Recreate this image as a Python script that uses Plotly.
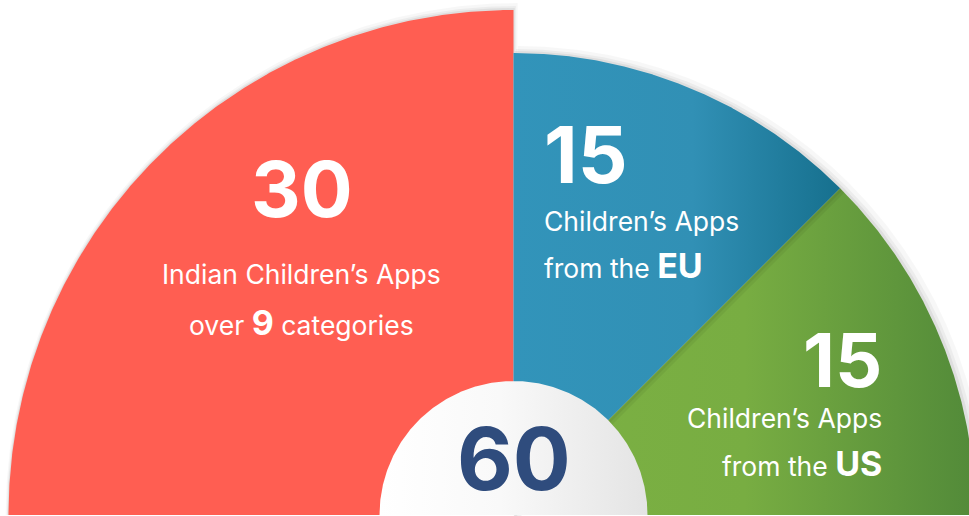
import numpy as np
import plotly.graph_objects as go

# ---- data ----
categories = ["India", "EU", "US"]
values = [30, 15, 15]
total_label = "60"
value_labels = ["30", "15", "15"]
line1 = ["Indian Children’s Apps", "Children’s Apps", "Children’s Apps"]
line2_pre = ["over ", "from the ", "from the "]
line2_bold = ["9", "EU", "US"]
line2_post = [" categories", "", ""]

# ---- style ----
radii = [505, 462, 462]
fills = [
    [[0, "#ff5e52"], [1, "#ff5e52"]],
    [[0, "#3294ba"], [0.55, "#3190b5"], [1, "#16708e"]],
    [[0, "#7cb143"], [0.5, "#78ad42"], [1, "#528a39"]],
]
hub_radius = 134
FONT = "Inter, Liberation Sans, Arial, sans-serif"
BODY = 26.5
BIG = 34

total = sum(values)
fig = go.Figure()

# soft outer shadow
cum = 0
for v, r in zip(values, radii):
    a0 = 180 - cum / total * 180
    a1 = 180 - (cum + v) / total * 180
    cum += v
    t = np.radians(np.linspace(a0, a1, 200))
    for k, op in [(7, 0.03), (4, 0.045), (2, 0.06)]:
        xs = np.concatenate([[0], (r + k) * np.cos(t) + k * 0.6, [0]])
        ys = np.concatenate([[0], (r + k) * np.sin(t), [0]])
        fig.add_trace(go.Scatter(x=xs, y=ys, fill="toself", mode="lines",
                                 line=dict(width=0), fillcolor=f"rgba(0,0,0,{op})",
                                 hoverinfo="skip", showlegend=False))

cum = 0
for i, (v, r) in enumerate(zip(values, radii)):
    a0 = 180 - cum / total * 180
    a1 = 180 - (cum + v) / total * 180
    cum += v
    t = np.radians(np.linspace(a0, a1, 300))
    xs = np.concatenate([[0], r * np.cos(t), [0]])
    ys = np.concatenate([[0], r * np.sin(t), [0]])
    fig.add_trace(go.Scatter(
        x=xs, y=ys, fill="toself", mode="lines", line=dict(width=0),
        fillgradient=dict(type="horizontal", colorscale=fills[i]),
        name=categories[i], hoverinfo="name", showlegend=False))
    if i == 2:
        # shadow cast by the EU wedge onto the US wedge
        for w, op in [(6, 0.05), (3, 0.06)]:
            tt = np.radians(a0)
            d = np.radians(a0 - 90)
            p0 = np.array([0, 0]); p1 = np.array([r * np.cos(tt), r * np.sin(tt)])
            off = w * np.array([np.cos(d), np.sin(d)])
            sx = [p0[0], p1[0], p1[0] + off[0], p0[0] + off[0], p0[0]]
            sy = [p0[1], p1[1], p1[1] + off[1], p0[1] + off[1], p0[1]]
            fig.add_trace(go.Scatter(x=sx, y=sy, fill="toself", mode="lines",
                                     line=dict(width=0), fillcolor=f"rgba(0,0,0,{op})",
                                     hoverinfo="skip", showlegend=False))

# hub
t = np.radians(np.linspace(180, 0, 300))
fig.add_trace(go.Scatter(
    x=hub_radius * np.cos(t), y=hub_radius * np.sin(t), fill="toself", mode="lines",
    line=dict(width=0),
    fillgradient=dict(type="horizontal", colorscale=[[0, "#ffffff"], [0.45, "#f9f9f9"], [1, "#e4e4e4"]]),
    hoverinfo="skip", showlegend=False))

white = "#ffffff"
def big(s):
    return f"<b><span style='font-size:{BIG}px'>{s}</span></b>"

# India
fig.add_annotation(x=-211.5, y=326, text=f"<b>{value_labels[0]}</b>", showarrow=False,
                   font=dict(family=FONT, size=77, color=white), xanchor="center", yanchor="middle")
fig.add_annotation(x=-212.5, y=241, text=line1[0], showarrow=False,
                   font=dict(family=FONT, size=BODY, color=white), xanchor="center", yanchor="middle")
fig.add_annotation(x=-212.5, y=193,
                   text=f"{line2_pre[0]}{big(line2_bold[0])}{line2_post[0]}",
                   showarrow=False, font=dict(family=FONT, size=BODY, color=white),
                   xanchor="center", yanchor="middle")
# EU
fig.add_annotation(x=28, y=361, text=f"<b>{value_labels[1]}</b>", showarrow=False,
                   font=dict(family=FONT, size=78, color=white), xanchor="left", yanchor="middle")
fig.add_annotation(x=28, y=294, text=line1[1], showarrow=False,
                   font=dict(family=FONT, size=BODY, color=white), xanchor="left", yanchor="middle")
fig.add_annotation(x=28, y=250,
                   text=f"{line2_pre[1]}{big(line2_bold[1])}",
                   showarrow=False, font=dict(family=FONT, size=BODY, color=white),
                   xanchor="left", yanchor="middle")
# US
fig.add_annotation(x=370.5, y=155, text=f"<b>{value_labels[2]}</b>", showarrow=False,
                   font=dict(family=FONT, size=74, color=white), xanchor="right", yanchor="middle")
fig.add_annotation(x=370.5, y=97, text=line1[2], showarrow=False,
                   font=dict(family=FONT, size=BODY, color=white), xanchor="right", yanchor="middle")
fig.add_annotation(x=370.5, y=52,
                   text=f"{line2_pre[2]}{big(line2_bold[2])}",
                   showarrow=False, font=dict(family=FONT, size=BODY, color=white),
                   xanchor="right", yanchor="middle")
# total
fig.add_annotation(x=0, y=56, text=f"<b>{total_label}</b>", showarrow=False,
                   font=dict(family=FONT, size=86, color="#2f4c7d"), xanchor="center", yanchor="middle")

fig.update_layout(
    width=969, height=516, margin=dict(l=0, r=0, t=0, b=0),
    paper_bgcolor="white", plot_bgcolor="white",
    xaxis=dict(range=[-513.5, 455.5], visible=False, fixedrange=True),
    yaxis=dict(range=[-1, 515], visible=False, fixedrange=True),
    showlegend=False,
)
fig.write_html("out.html", config={"displayModeBar": False},
               post_script="document.body.style.margin='0';document.body.style.overflow='hidden';")
